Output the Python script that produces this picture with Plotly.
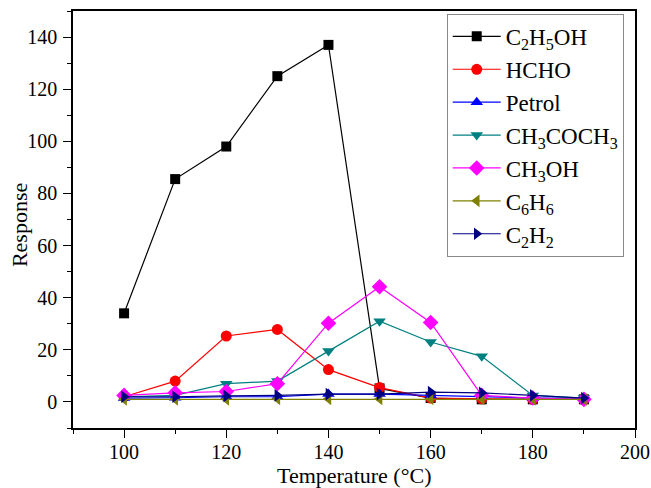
import plotly.graph_objects as go

temperature = [100, 110, 120, 130, 140, 150, 160, 170, 180, 190]

c2h5oh = [34, 85.5, 98, 125, 137, 5.2, 1.5, 1.0, 1.0, 1.0]
hcho = [2.0, 8.0, 25.3, 27.8, 12.4, 5.5, 1.5, 1.2, 1.0, 1.0]
petrol = [1.5, 1.6, 2.0, 2.0, 3.0, 3.0, 2.5, 2.0, 1.5, 1.5]
ch3coch3 = [2.0, 2.5, 7.0, 8.0, 19.5, 31.0, 23.0, 17.5, 2.5, 1.5]
ch3oh = [2.5, 3.5, 4.0, 7.0, 30.2, 44.2, 30.5, 2.5, 1.5, 1.0]
c6h6 = [1.0, 1.0, 1.0, 1.2, 1.2, 1.2, 1.2, 1.2, 1.0, 1.0]
c2h2 = [2.0, 2.0, 2.3, 2.5, 3.0, 3.0, 3.8, 3.5, 2.5, 1.5]

series = [
    ("C<sub>2</sub>H<sub>5</sub>OH", c2h5oh, "#000000", "square", 10),
    ("HCHO", hcho, "#FF0000", "circle", 11),
    ("Petrol", petrol, "#0000FF", "triangle-up", 11),
    ("CH<sub>3</sub>COCH<sub>3</sub>", ch3coch3, "#008080", "triangle-down", 11),
    ("CH<sub>3</sub>OH", ch3oh, "#FF00FF", "diamond", 12),
    ("C<sub>6</sub>H<sub>6</sub>", c6h6, "#808000", "triangle-left", 11),
    ("C<sub>2</sub>H<sub>2</sub>", c2h2, "#000080", "triangle-right", 11),
]

x_title = "Temperature (°C)"
y_title = "Response"

FONT = "Liberation Serif, Times New Roman, serif"

fig = go.Figure()
for name, values, color, symbol, size in series:
    fig.add_trace(go.Scatter(
        x=temperature, y=values, name=name, mode="lines+markers",
        line=dict(color=color, width=1.2),
        marker=dict(symbol=symbol, size=size, color=color),
    ))

axis_common = dict(
    showline=True, linecolor="black", linewidth=1.5, mirror=True,
    ticks="outside", ticklen=8, tickwidth=1.2, tickcolor="black",
    showgrid=False, zeroline=False, automargin=False,
    tickfont=dict(family=FONT, size=20, color="black"),
)

fig.update_layout(
    width=651, height=488,
    margin=dict(l=73, r=16, t=11, b=60),
    paper_bgcolor="white", plot_bgcolor="white",
    font=dict(family=FONT, color="black"),
    xaxis=dict(
        range=[90, 200], dtick=20, tick0=100,
        minor=dict(dtick=10, ticks="outside", ticklen=4, tickcolor="black"),
        ticklabelstandoff=-3,
        **axis_common,
    ),
    yaxis=dict(
        range=[-10, 150], dtick=20, tick0=0,
        minor=dict(dtick=10, ticks="outside", ticklen=4, tickcolor="black"),
        ticklabelstandoff=2,
        **axis_common,
    ),
    legend=dict(
        x=0.665, y=0.993, xanchor="left", yanchor="top",
        bgcolor="white", bordercolor="#888888", borderwidth=1,
        font=dict(family=FONT, size=23, color="black"),
        tracegroupgap=0, itemwidth=48,
    ),
    showlegend=True,
)

# Axis titles placed as paper-anchored annotations
fig.add_annotation(
    text=x_title, xref="paper", yref="paper", x=0.5, y=-0.115,
    xanchor="center", yanchor="middle", showarrow=False,
    font=dict(family=FONT, size=22, color="black"),
)
fig.add_annotation(
    text=y_title, xref="paper", yref="paper", x=-0.094, y=0.487,
    xanchor="center", yanchor="middle", showarrow=False, textangle=-90,
    font=dict(family=FONT, size=22, color="black"),
)

fig.write_html("out.html")
